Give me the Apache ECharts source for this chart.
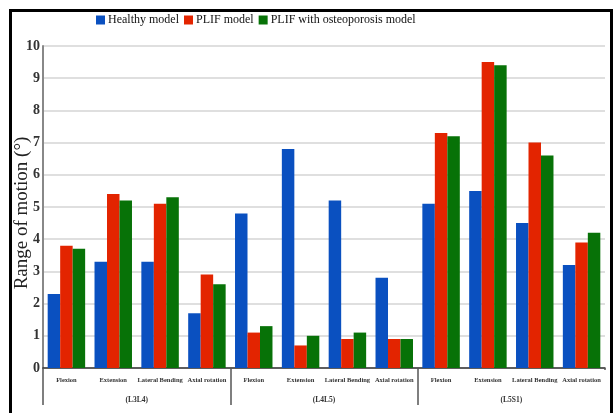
<!DOCTYPE html>
<html>
<head>
<meta charset="utf-8">
<script src="https://cdn.jsdelivr.net/npm/echarts@6/dist/echarts.min.js"></script>
<style>html,body{margin:0;padding:0;background:#fff}#c{width:614px;height:413px}</style>
</head>
<body>
<div id="c"></div>
<script>
const motions = ['Flexion', 'Extension', 'Lateral Bending', 'Axial rotation'];
const segments = ['(L3L4)', '(L4L5)', '(L5S1)'];
const categories = [].concat(...segments.map(() => motions));
const healthy = [2.3, 3.3, 3.3, 1.7, 4.8, 6.8, 5.2, 2.8, 5.1, 5.5, 4.5, 3.2];
const plif = [3.8, 5.4, 5.1, 2.9, 1.1, 0.7, 0.9, 0.9, 7.3, 9.5, 7.0, 3.9];
const plifOsteo = [3.7, 5.2, 5.3, 2.6, 1.3, 1.0, 1.1, 0.9, 7.2, 9.4, 6.6, 4.2];
const seriesNames = ['Healthy model', 'PLIF model', 'PLIF with osteoporosis model'];
const colors = ['#0a50c0', '#e32400', '#077207'];
const yTicks = [0, 10, 1];

const serif = 'Liberation Serif, Times New Roman, serif';
const chart = echarts.init(document.getElementById('c'), null, {renderer: 'canvas'});
chart.setOption({
  animation: false,
  color: colors,
  legend: {
    left: 91, top: 9, itemWidth: 9, itemHeight: 9, itemGap: 5, icon: 'rect',
    textStyle: {fontFamily: serif, fontSize: 12, color: '#111', padding: [0, 0, 0, -2]},
    data: seriesNames
  },
  grid: {left: 43, right: 9, top: 46, bottom: 45, containLabel: false, outerBoundsMode: 'none'},
  xAxis: [{
    type: 'category', data: categories, position: 'bottom',
    axisLine: {lineStyle: {color: '#333', width: 1.5}},
    axisTick: {show: false},
    axisLabel: {interval: 0, fontFamily: serif, fontSize: 6.5, fontWeight: 'bold', color: '#333', margin: 9}
  }, {
    type: 'category', data: segments, position: 'bottom',
    axisLine: {show: false},
    axisTick: {show: true, length: 37, lineStyle: {color: '#555', width: 1.5}},
    axisLabel: {fontFamily: serif, fontSize: 7.5, fontWeight: 'bold', color: '#333', margin: 28}
  }],
  yAxis: {
    type: 'value', min: yTicks[0], max: yTicks[1], interval: yTicks[2],
    name: 'Range of motion (°)', nameLocation: 'middle', nameGap: 11, nameMoveOverlap: false,
    nameTextStyle: {fontFamily: serif, fontSize: 19, color: '#222', padding: [0, 12, 0, 0]},
    axisLine: {show: true, lineStyle: {color: '#888', width: 2}},
    axisTick: {show: false},
    axisLabel: {fontFamily: serif, fontSize: 14, fontWeight: 'bold', color: '#333', margin: 3},
    splitLine: {lineStyle: {color: '#d4d4d4', width: 1.5}}
  },
  series: [healthy, plif, plifOsteo].map((d, i) => ({
    name: seriesNames[i], type: 'bar', data: d, xAxisIndex: 0,
    barGap: '0%', barCategoryGap: '20%'
  })),
  graphic: [
    {type: 'rect', shape: {x: 602, y: 370, width: 6, height: 42}, style: {fill: '#fff'}, z: 100},
    {type: 'rect', shape: {x: 10.5, y: 10.5, width: 601, height: 420}, style: {fill: 'none', stroke: '#000', lineWidth: 3}, z: 101}
  ]
});
</script>
</body>
</html>
